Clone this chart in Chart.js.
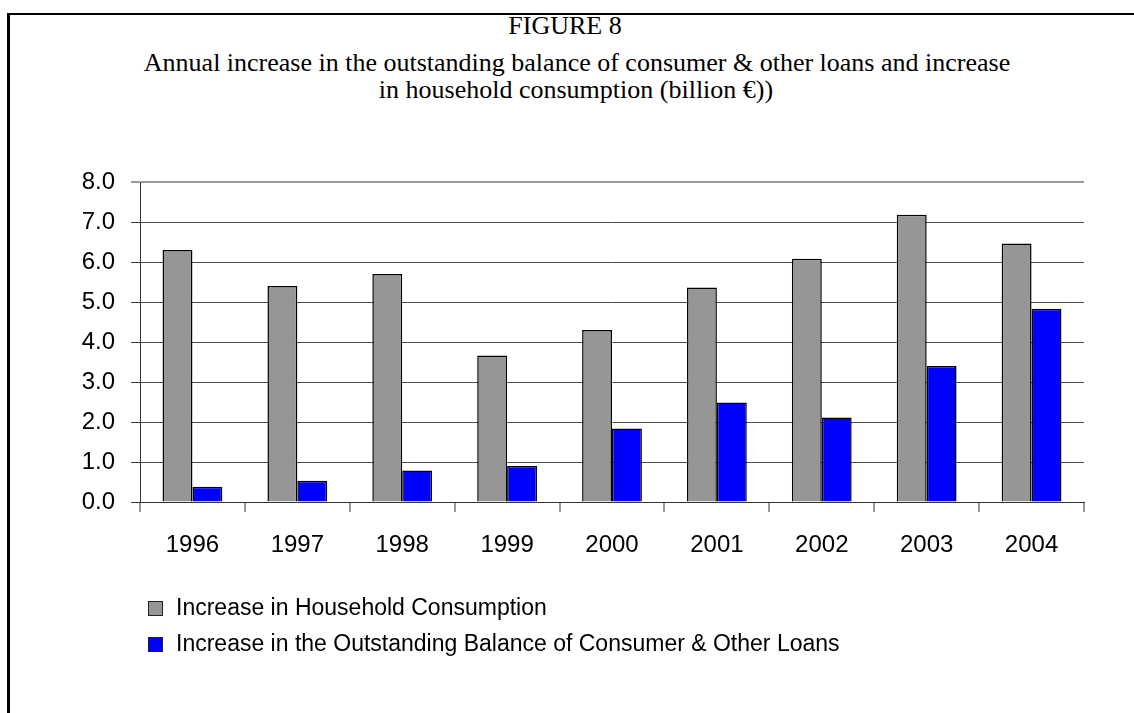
<!DOCTYPE html>
<html>
<head>
<meta charset="utf-8">
<title>Figure 8</title>
<script src="https://cdn.jsdelivr.net/npm/chart.js@4/dist/chart.umd.min.js"></script>
<style>
  html, body { margin: 0; padding: 0; background: #fff; }
  #page { position: relative; width: 1134px; height: 713px; overflow: hidden; }
  #frame {
    position: absolute; left: 7px; top: 13px; right: -10px; bottom: -10px;
    border-top: 2px solid #000; border-left: 3px solid #000;
  }
  .title {
    position: absolute; left: 0; width: 1134px; text-align: center;
    font-family: "Liberation Serif", "Times New Roman", serif; font-size: 26px;
    line-height: 30px; color: #000; white-space: nowrap;
  }
  #chartBox { position: absolute; left: 0; top: 0; width: 1134px; height: 713px; }
  .leg {
    position: absolute; left: 148px; font-family: "Liberation Sans", Arial, sans-serif;
    font-size: 23px; line-height: 27px; color: #000; white-space: nowrap;
  }
  .leg i {
    display: inline-block; width: 13px; height: 13px; border: 1px solid #222;
    margin-right: 13px; vertical-align: -1px;
  }
</style>
</head>
<body>
<div id="page">
  <div id="frame"></div>
  <div class="title" style="top:11px; left:-2px;">FIGURE 8</div>
  <div class="title" style="top:48px; left:10px;">Annual increase in the outstanding balance of consumer &amp; other loans and increase</div>
  <div class="title" style="top:75px; left:9px;">in household consumption (billion €))</div>
  <div id="chartBox"><canvas id="fig8"></canvas></div>
  <div class="leg" style="top:594px;"><i style="background:#969696"></i>Increase in Household Consumption</div>
  <div class="leg" style="top:630px;"><i style="background:#0000FF"></i>Increase in the Outstanding Balance of Consumer &amp; Other Loans</div>
</div>

<script>
/* ── Data ── */
const YEARS       = ['1996', '1997', '1998', '1999', '2000', '2001', '2002', '2003', '2004'];
const CONSUMPTION = [6.30, 5.40, 5.70, 3.66, 4.30, 5.36, 6.08, 7.18, 6.46];
const LOANS       = [0.38, 0.53, 0.79, 0.90, 1.84, 2.49, 2.11, 3.40, 4.83];
const Y_MIN = 0, Y_MAX = 8, Y_STEP = 1;

const GRAY  = '#969696';
const BLUE  = '#0000FF';
const GRID  = '#4d4d4d';
const FRAME = '#999999';
const AXIS  = '#333333';
const tickFont = { family: "'Liberation Sans', Arial, sans-serif", size: 24 };

new Chart(document.getElementById('fig8'), {
  type: 'bar',
  data: {
    labels: YEARS,
    datasets: [
      {
        label: 'Increase in Household Consumption',
        data: CONSUMPTION,
        backgroundColor: GRAY,
        borderColor: '#000',
        borderWidth: 1.5
      },
      {
        label: 'Increase in the Outstanding Balance of Consumer & Other Loans',
        data: LOANS,
        backgroundColor: BLUE,
        borderColor: '#000',
        borderWidth: 1.5
      }
    ]
  },
  options: {
    responsive: true,
    maintainAspectRatio: false,
    animation: false,
    datasets: { bar: { categoryPercentage: 0.57, barPercentage: 1.0 } },
    layout: { padding: { left: 40, right: 50, top: 182, bottom: 111 } },
    plugins: {
      legend: { display: false },
      title: { display: false },
      tooltip: { enabled: false }
    },
    scales: {
      x: {
        afterFit: s => { s.height = 100; },
        border: { display: true, color: AXIS, width: 1 },
        grid: {
          offset: true,
          drawOnChartArea: true,
          color: c => c.index === YEARS.length ? FRAME : 'rgba(0,0,0,0)',
          lineWidth: 2,
          tickColor: AXIS,
          tickWidth: 1,
          tickLength: 10
        },
        ticks: { color: '#000', font: tickFont, padding: 19, maxRotation: 0, autoSkip: false }
      },
      y: {
        min: Y_MIN,
        max: Y_MAX,
        afterFit: s => { s.width = 100; },
        border: { display: true, color: AXIS, width: 1 },
        grid: {
          color: c => c.tick && c.tick.value === Y_MAX ? FRAME : GRID,
          lineWidth: c => c.tick && c.tick.value === Y_MAX ? 2 : 1,
          tickColor: AXIS,
          tickWidth: 1,
          tickLength: 9
        },
        ticks: {
          stepSize: Y_STEP,
          color: '#000',
          font: tickFont,
          padding: 16,
          callback: v => v.toFixed(1)
        }
      }
    }
  }
});
</script>
</body>
</html>
